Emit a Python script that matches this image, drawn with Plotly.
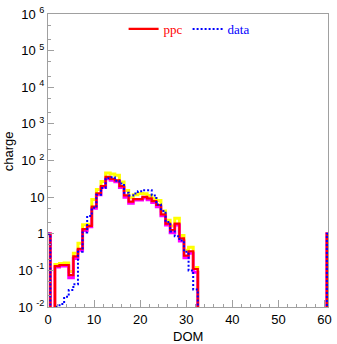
import plotly.graph_objects as go

# DOM bins (centred on integers, width 1)
dom = list(range(0, 62))

# values for DOM 0..32, then empty up to 60, then DOM 61
ppc_head = [1, 0, 0.13, 0.14, 0.14, 0.074, 0.24, 0.39, 1.34, 1.64, 5.5, 12.6, 20, 35.5, 31.6,
            28.8, 20, 11.1, 7.5, 8.8, 8.8, 10.2, 9.2, 7.8, 6.1, 3.4, 1.9, 1.26, 1.9, 0.75,
            0.254, 0.333, 0.109]
data_head = [1, 0, 0.0102, 0.012, 0.019, 0.029, 0.042, 0.32, 1.09, 3.07, 5.1, 11.7, 17.8, 33,
             34.7, 28.2, 23.4, 13.2, 11.1, 12.6, 14.5, 15.5, 15.5, 11.1, 6.3, 4.2, 2.1, 1.16,
             0.86, 0.65, 0.32, 0.1, 0.03]
upper_head = [1, 0, 0.145, 0.155, 0.158, 0.093, 0.295, 0.55, 1.75, 1.82, 8.6, 16.1, 26.9, 45.5,
              42.7, 39.4, 25.9, 15.1, 9.6, 11.7, 12.6, 12.3, 11.1, 9.2, 8.1, 4.2, 2.34, 1.64,
              2.65, 0.9, 0.355, 0.43, 0.12]
lower_head = [1, 0, 0.123, 0.132, 0.132, 0.063, 0.21, 0.355, 1.23, 1.55, 5.0, 11.7, 18.6, 31.6,
              28.8, 26.3, 18.2, 10, 6.8, 8.3, 8.3, 9.5, 8.5, 7.1, 5.5, 3.1, 1.74, 1.07, 1.74,
              0.63, 0.22, 0.295, 0.089]
tail = [0] * 28 + [1]   # DOM 33..60 empty, DOM 61

ppc = ppc_head + tail
data = data_head + tail
upper = upper_head + tail
lower = lower_head + tail

ytickvals = [0.01, 0.1, 1, 10, 100, 1e3, 1e4, 1e5, 1e6]
yticktext = ["10 <sup>-2</sup>", "10 <sup>-1</sup>", "1", "10", "10 <sup>2</sup>",
             "10 <sup>3</sup>", "10 <sup>4</sup>", "10 <sup>5</sup>", "10 <sup>6</sup>"]
xtickvals = [0, 10, 20, 30, 40, 50, 60]

FLOOR = 1e-4


def fl(vals):
    return [v if v > 0 else FLOOR for v in vals]


fig = go.Figure()
fig.add_trace(go.Scatter(x=dom, y=fl(upper), mode="lines", line=dict(color="#ffff00", width=3, shape="hvh"),
                         showlegend=False, hoverinfo="skip"))
fig.add_trace(go.Scatter(x=dom, y=fl(lower), mode="lines", line=dict(color="#ff00ff", width=3, shape="hvh"),
                         showlegend=False, hoverinfo="skip"))
fig.add_trace(go.Scatter(x=dom, y=fl(ppc), mode="lines", line=dict(color="#ff0000", width=2.2, shape="hvh"),
                         name='<span style="color:#ff0000">ppc</span>'))
fig.add_trace(go.Scatter(x=dom, y=fl(data), mode="lines",
                         line=dict(color="#0000ff", width=2, shape="hvh", dash="2px,2px"),
                         name='<span style="color:#0000ff">data</span>'))

axcol = "#a0a0a0"
fig.update_layout(
    width=337, height=344,
    margin=dict(l=48, r=5, t=11, b=37),
    paper_bgcolor="white", plot_bgcolor="white",
    font=dict(family="Liberation Sans, Arial, sans-serif", size=13, color="black"),
    showlegend=True,
    legend=dict(orientation="h", x=0.27, y=1.0, xanchor="left", yanchor="top",
                bgcolor="rgba(0,0,0,0)", font=dict(family="Liberation Serif, serif", size=13),
                itemwidth=30, tracegroupgap=0),
    xaxis=dict(range=[0, 60.75], tickvals=xtickvals, ticks="inside", ticklen=7, tickcolor=axcol,
               showline=True, linecolor=axcol, linewidth=1, mirror=True, showgrid=False, zeroline=False,
               tickfont=dict(size=13),
               minor=dict(dtick=2, ticks="inside", ticklen=3, tickcolor=axcol, showgrid=False)),
    yaxis=dict(type="log", range=[-2, 6], tickvals=ytickvals, ticktext=yticktext, ticks="inside",
               ticklen=6, tickcolor=axcol, showline=True, linecolor=axcol, linewidth=1, mirror=True,
               showgrid=False, zeroline=False, tickfont=dict(size=13),
               minor=dict(ticks="inside", ticklen=3, tickcolor=axcol, showgrid=False)),
    annotations=[
        dict(text="DOM", xref="paper", yref="paper", x=0.5, y=-0.101, xanchor="center", yanchor="middle",
             showarrow=False, font=dict(size=13)),
        dict(text="charge", xref="paper", yref="paper", x=-0.141, y=0.53, xanchor="center", yanchor="middle",
             textangle=-90, showarrow=False, font=dict(size=13)),
    ],
)

fig.write_html("out.html")
